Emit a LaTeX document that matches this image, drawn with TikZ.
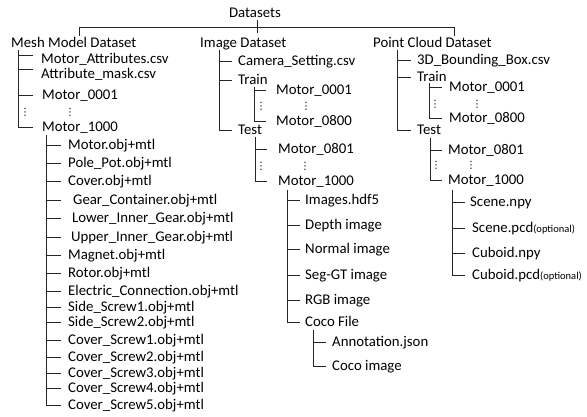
\documentclass[tikz,border=0pt]{standalone}
\usepackage{fontspec}
\setmainfont{Carlito}
\newfontfamily\dejavu{DejaVu Sans}
\newcommand\fsz{\fontsize{14.8}{17}\selectfont}
\newcommand\fsm{\fontsize{10.5}{12}\selectfont}
\newcommand\fsd{\dejavu\fontsize{10}{10}\selectfont}
\begin{document}
\begin{tikzpicture}[x=1pt,y=-1pt,
  tree/.style={draw=black!85,line width=0.9pt},
  lbl/.style={anchor=west,inner xsep=0pt,inner ysep=0pt,text height=9.5pt,text depth=0pt,font=\fsz},
  top/.style={anchor=center,inner sep=0pt,text height=9.5pt,text depth=0pt,font=\fsz},
  vd/.style={inner sep=0pt,font=\fsd}]
\useasboundingbox (0,0) rectangle (587,417);
% ---------- top level
\node[top] (ds) at (255,13) {Datasets};
\node[lbl] (mesh) at (11,43) {Mesh Model Dataset};
\node[lbl] (img) at (200,43) {Image Dataset};
\node[lbl] (pc) at (373,43) {Point Cloud Dataset};
\coordinate (bl) at (79,36);
\coordinate (br) at (454,36);
\draw[tree] (bl) -- ++(0,-9) -| (br);
\draw[tree] ([xshift=2pt,yshift=-2pt]ds.south) -- ([xshift=2pt]ds.south |- 0,33);

% ---------- Mesh Model Dataset
\coordinate (spm) at (18,50);
\coordinate (tem) at (33,0);
\node[lbl,text height=17.5pt] (m1) at (41,55) {Motor\_Attributes.csv};
\node[lbl,text height=20pt] (m2) at (41,69) {Attribute\_mask.csv};
\node[lbl] (m3) at (42,95) {Motor\_0001};
\node[lbl] (m4) at (42,127) {Motor\_1000};
\node[vd] (md1) at (25,112) {⋮};
\node[vd] (md2) at (70,112) {⋮};
\draw[tree] (spm) |- (m4.west -| tem);
\foreach \n in {m1,m2,m3}{\draw[tree] (\n.west -| spm) -- (\n.west -| tem);}

% Mesh Motor_1000 children
\coordinate (spk) at (46,135);
\coordinate (tek) at (61,0);
\node[lbl] (k1) at (68,145) {Motor.obj+mtl};
\node[lbl] (k2) at (68,163) {Pole\_Pot.obj+mtl};
\node[lbl] (k3) at (68,181) {Cover.obj+mtl};
\node[lbl] (k4) at (73,200) {Gear\_Container.obj+mtl};
\node[lbl] (k5) at (72,218) {Lower\_Inner\_Gear.obj+mtl};
\node[lbl] (k6) at (71,237) {Upper\_Inner\_Gear.obj+mtl};
\node[lbl] (k7) at (68,255) {Magnet.obj+mtl};
\node[lbl] (k8) at (68,273) {Rotor.obj+mtl};
\node[lbl] (k9) at (68,291) {Electric\_Connection.obj+mtl};
\node[lbl] (k10) at (68,307) {Side\_Screw1.obj+mtl};
\node[lbl] (k11) at (68,322) {Side\_Screw2.obj+mtl};
\node[lbl] (k12) at (68,340) {Cover\_Screw1.obj+mtl};
\node[lbl] (k13) at (68,357) {Cover\_Screw2.obj+mtl};
\node[lbl] (k14) at (68,373) {Cover\_Screw3.obj+mtl};
\node[lbl] (k15) at (68,388) {Cover\_Screw4.obj+mtl};
\node[lbl] (k16) at (68,405) {Cover\_Screw5.obj+mtl};
\draw[tree] (spk) |- (k16.west -| tek);
\foreach \n in {k1,k2,k3,k4,k5,k6,k7,k8,k9,k10,k11,k12,k13,k14,k15}{\draw[tree] (\n.west -| spk) -- (\n.west -| tek);}

% ---------- Image Dataset
\coordinate (spi) at (219,50);
\coordinate (tei) at (232,0);
\node[lbl] (i1) at (238,61) {Camera\_Setting.csv};
\node[lbl] (i2) at (238,80) {Train};
\node[lbl] (i3) at (238,130) {Test};
\draw[tree] (spi) |- (i3.west -| tei);
\foreach \n in {i1,i2}{\draw[tree] (\n.west -| spi) -- (\n.west -| tei);}

\coordinate (spit) at (254,87);
\coordinate (teit) at (266,0);
\node[lbl] (it1) at (276,90) {Motor\_0001};
\node[lbl] (it2) at (276,121) {Motor\_0800};
\node[vd] (itd1) at (261,106) {⋮};
\node[vd] (itd2) at (306,106) {⋮};
\draw[tree] (spit) |- (it2.west -| teit);
\draw[tree] (it1.west -| spit) -- (it1.west -| teit);

\coordinate (spis) at (255,137);
\coordinate (teis) at (267,0);
\node[lbl] (is1) at (278,149) {Motor\_0801};
\node[lbl] (is2) at (278,181) {Motor\_1000};
\node[vd] (isd1) at (261,166) {⋮};
\node[vd] (isd2) at (305,166) {⋮};
\draw[tree] (spis) |- (is2.west -| teis);
\draw[tree] (is1.west -| spis) -- (is1.west -| teis);

\coordinate (spim) at (287,190);
\coordinate (teim) at (300,0);
\node[lbl] (im1) at (305,200) {Images.hdf5};
\node[lbl] (im2) at (305,225) {Depth image};
\node[lbl] (im3) at (305,249) {Normal image};
\node[lbl] (im4) at (305,275) {Seg-GT image};
\node[lbl] (im5) at (305,300) {RGB image};
\node[lbl] (im6) at (305,322) {Coco File};
\draw[tree] (spim) |- (im6.west -| teim);
\foreach \n in {im1,im2,im3,im4,im5}{\draw[tree] (\n.west -| spim) -- (\n.west -| teim);}

\coordinate (spc) at (313,330);
\coordinate (tec) at (326,0);
\node[lbl] (c1) at (332,342) {Annotation.json};
\node[lbl] (c2) at (332,366) {Coco image};
\draw[tree] (spc) |- (c2.west -| tec);
\draw[tree] (c1.west -| spc) -- (c1.west -| tec);

% ---------- Point Cloud Dataset
\coordinate (spp) at (397,50);
\coordinate (tep) at (411,0);
\node[lbl] (p1) at (417,60) {3D\_Bounding\_Box.csv};
\node[lbl] (p2) at (417,77) {Train};
\node[lbl] (p3) at (417,130) {Test};
\draw[tree] (spp) |- (p3.west -| tep);
\foreach \n in {p1,p2}{\draw[tree] (\n.west -| spp) -- (\n.west -| tep);}

\coordinate (sppt) at (429,83);
\coordinate (tept) at (442,0);
\node[lbl] (pt1) at (449,87) {Motor\_0001};
\node[lbl] (pt2) at (449,118) {Motor\_0800};
\node[vd] (ptd1) at (435,104) {⋮};
\node[vd] (ptd2) at (477,104) {⋮};
\draw[tree] (sppt) |- (pt2.west -| tept);
\draw[tree] (pt1.west -| sppt) -- (pt1.west -| tept);

\coordinate (spps) at (430,138);
\coordinate (teps) at (442,0);
\node[lbl] (ps1) at (448,150) {Motor\_0801};
\node[lbl] (ps2) at (448,180) {Motor\_1000};
\node[vd] (psd1) at (436,165) {⋮};
\node[vd] (psd2) at (471,165) {⋮};
\draw[tree] (spps) |- (ps2.west -| teps);
\draw[tree] (ps1.west -| spps) -- (ps1.west -| teps);

\coordinate (sppm) at (452,190);
\coordinate (tepm) at (465,0);
\node[lbl] (pm1) at (470,202) {Scene.npy};
\node[lbl] (pm2) at (472,228) {Scene.pcd{\fsm(optional)}};
\node[lbl] (pm3) at (472,253) {Cuboid.npy};
\node[lbl] (pm4) at (472,275) {Cuboid.pcd{\fsm(optional)}};
\draw[tree] (sppm) |- (pm4.west -| tepm);
\foreach \n in {pm1,pm2,pm3}{\draw[tree] (\n.west -| sppm) -- (\n.west -| tepm);}
\end{tikzpicture}
\end{document}
